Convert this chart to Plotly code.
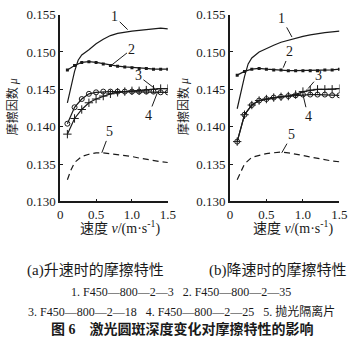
import plotly.graph_objects as go

# ---------------- data ----------------
v_line = [0.1, 0.15, 0.2, 0.25, 0.3, 0.4, 0.5, 0.6, 0.7, 0.8, 0.9, 1.0, 1.1, 1.2, 1.3, 1.4, 1.5]
v_mark = [0.1, 0.2, 0.3, 0.4, 0.5, 0.6, 0.7, 0.8, 0.9, 1.0, 1.1, 1.2, 1.3, 1.4, 1.5]
v_dash = [0.1, 0.15, 0.2, 0.3, 0.4, 0.5, 0.6, 0.7, 0.8, 0.9, 1.0, 1.1, 1.2, 1.3, 1.4, 1.5]

# (a) accelerating
a1 = [0.1432, 0.1455, 0.1474, 0.1489, 0.1496, 0.1503, 0.1511, 0.1517, 0.1522, 0.1525, 0.1527, 0.1528, 0.1529, 0.1530, 0.1531, 0.1532, 0.1531]
a2 = [0.1476, 0.1482, 0.1486, 0.1487, 0.1486, 0.1484, 0.1482, 0.1481, 0.1480, 0.1479, 0.1478, 0.1478, 0.1477, 0.1477, 0.1477]
a3 = [0.1390, 0.1411, 0.1423, 0.1432, 0.1437, 0.1441, 0.1444, 0.1446, 0.1447, 0.1448, 0.1448, 0.1449, 0.1450, 0.1451, 0.1451]
a4 = [0.1404, 0.1426, 0.1437, 0.1444, 0.1446, 0.1447, 0.1447, 0.1447, 0.1447, 0.1447, 0.1447, 0.1447, 0.1447, 0.1446, 0.1446]
a5 = [0.1329, 0.1342, 0.1352, 0.1360, 0.1363, 0.1365, 0.1365, 0.1364, 0.1363, 0.1361, 0.1360, 0.1358, 0.1356, 0.1355, 0.1353, 0.1352]

# (b) decelerating
b1 = [0.1424, 0.1448, 0.1467, 0.1484, 0.1492, 0.1500, 0.1505, 0.1509, 0.1513, 0.1516, 0.1519, 0.1521, 0.1523, 0.1525, 0.1526, 0.1527, 0.1528]
b2 = [0.1469, 0.1474, 0.1477, 0.1478, 0.1477, 0.1476, 0.1476, 0.1475, 0.1475, 0.1475, 0.1475, 0.1475, 0.1476, 0.1476, 0.1477]
b3 = [0.1380, 0.1416, 0.1429, 0.1435, 0.1437, 0.1439, 0.1440, 0.1441, 0.1443, 0.1447, 0.1449, 0.1450, 0.1450, 0.1450, 0.1451]
b4 = [0.1380, 0.1416, 0.1429, 0.1435, 0.1437, 0.1439, 0.1440, 0.1441, 0.1442, 0.1443, 0.1443, 0.1443, 0.1443, 0.1442, 0.1442]
b5 = [0.1329, 0.1340, 0.1350, 0.1359, 0.1362, 0.1364, 0.1365, 0.1366, 0.1365, 0.1363, 0.1361, 0.1359, 0.1357, 0.1356, 0.1354, 0.1353]

y_ticks = [0.130, 0.135, 0.140, 0.145, 0.150, 0.155]
y_ticktext = ["0.130", "0.135", "0.140", "0.145", "0.150", "0.155"]
x_ticks = [0, 0.5, 1.0, 1.5]
x_ticktext = ["0", "0.5", "1.0", "1.5"]

# curve label positions: (label_v, label_mu, target_v, target_mu)
labels_a = {"1": (0.76, 0.1547, 0.94, 0.1530), "2": (1.0, 0.1504, 0.71, 0.1482),
            "3": (1.09, 0.1468, 1.32, 0.1451), "4": (1.23, 0.1415, 1.36, 0.1447),
            "5": (0.69, 0.1393, 0.58, 0.1365)}
labels_b = {"1": (0.71, 0.1545, 0.85, 0.1520), "2": (0.82, 0.1500, 0.73, 0.1479),
            "3": (1.22, 0.1468, 1.07, 0.1451), "4": (1.07, 0.1414, 1.0, 0.1443),
            "5": (0.85, 0.1389, 0.71, 0.1365)}

INK = "#1a1a1a"
SERIF = "Liberation Serif, DejaVu Serif, serif"
CJK = "Liberation Serif, Noto Sans CJK SC, sans-serif"

fig = go.Figure()

def add_panel(xa, ya, c1, c2, c3, c4, c5):
    fig.add_trace(go.Scatter(x=v_line, y=c1, mode="lines", line=dict(color=INK, width=1.2),
                             xaxis=xa, yaxis=ya, showlegend=False))
    fig.add_trace(go.Scatter(x=v_mark, y=c2, mode="lines+markers", line=dict(color=INK, width=1.2),
                             marker=dict(symbol="square", size=3, color=INK),
                             xaxis=xa, yaxis=ya, showlegend=False))
    fig.add_trace(go.Scatter(x=v_mark, y=c3, mode="lines+markers", line=dict(color=INK, width=1.2),
                             marker=dict(symbol="cross-thin-open", size=6, line=dict(color=INK, width=1)),
                             xaxis=xa, yaxis=ya, showlegend=False))
    fig.add_trace(go.Scatter(x=v_mark, y=c4, mode="lines+markers", line=dict(color=INK, width=1.2),
                             marker=dict(symbol="circle-open", size=5, line=dict(color=INK, width=1)),
                             xaxis=xa, yaxis=ya, showlegend=False))
    fig.add_trace(go.Scatter(x=v_dash, y=c5, mode="lines", line=dict(color=INK, width=1.2, dash="6px,4px"),
                             xaxis=xa, yaxis=ya, showlegend=False))

add_panel("x", "y", a1, a2, a3, a4, a5)
add_panel("x2", "y2", b1, b2, b3, b4, b5)

annotations = []
for labels, xr, yr in [(labels_a, "x", "y"), (labels_b, "x2", "y2")]:
    for name, (lv, lm, tv, tm) in labels.items():
        annotations.append(dict(x=tv, y=tm, ax=lv, ay=lm, xref=xr, yref=yr, axref=xr, ayref=yr,
                                text=name, showarrow=True, arrowhead=0, arrowwidth=1, arrowcolor=INK,
                                font=dict(family=SERIF, size=14, color=INK), standoff=0, startstandoff=0))

def paper_text(txt, xc, yc, size, angle=0):
    annotations.append(dict(x=xc / 362, y=1 - yc / 352, xref="paper", yref="paper", showarrow=False,
                            xanchor="center", yanchor="middle", text=txt, textangle=angle,
                            font=dict(family=CJK, size=size, color=INK)))

# axis titles
for xc in [121, 299]:
    paper_text("速度 <i>v</i>/(m·s<sup>-1</sup>)", xc, 230, 14)
for xc in [10, 186]:
    paper_text("摩擦因数 <i>μ</i>", xc, 104, 12, -90)

paper_text("(a)升速时的摩擦特性", 95, 275, 15)
paper_text("(b)降速时的摩擦特性", 284, 275, 15)
paper_text("1. F450—800—2—3   2. F450—800—2—35", 184, 298, 12)
paper_text("3. F450—800—2—18   4. F450—800—2—25   5. 抛光隔离片", 184, 318, 12)
paper_text("<b>图 6    激光圆斑深度变化对摩擦特性的影响</b>", 185, 336, 14)

ax_common = dict(showline=True, linecolor=INK, linewidth=1.5, showgrid=False, zeroline=False,
                 ticks="inside", ticklen=3, tickcolor=INK, tickfont=dict(family=SERIF, size=13, color=INK))

fig.update_layout(
    width=362, height=352,
    margin=dict(l=0, r=0, t=0, b=0),
    paper_bgcolor="white", plot_bgcolor="white",
    xaxis=dict(domain=[59 / 362, 170 / 362], range=[0, 1.5], tickvals=x_ticks, ticktext=x_ticktext,
               anchor="y", **ax_common),
    yaxis=dict(domain=[1 - 203 / 352, 1 - 8 / 352], range=[0.130, 0.155], tickvals=y_ticks,
               ticktext=y_ticktext, anchor="x", **ax_common),
    xaxis2=dict(domain=[234 / 362, 347 / 362], range=[0, 1.5], tickvals=x_ticks, ticktext=x_ticktext,
                anchor="y2", **ax_common),
    yaxis2=dict(domain=[1 - 203 / 352, 1 - 8 / 352], range=[0.130, 0.155], tickvals=y_ticks,
                ticktext=y_ticktext, anchor="x2", **ax_common),
    annotations=annotations,
)

fig.write_html("out.html")
